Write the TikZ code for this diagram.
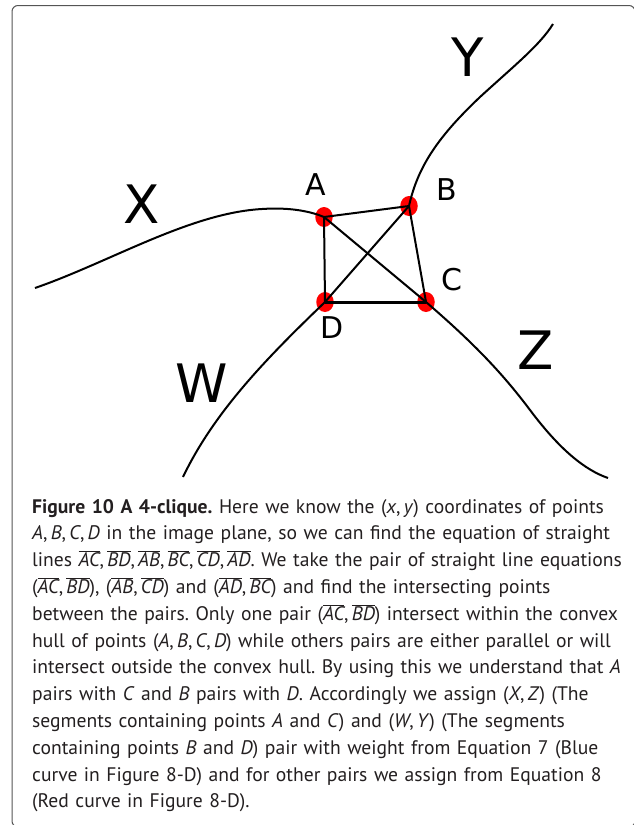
\documentclass[tikz,border=0pt]{standalone}
\usepackage{fontspec}
\setmainfont{PT Sans}
\newfontfamily\labelfont{DejaVu Sans}
\usetikzlibrary{shapes.geometric}
\definecolor{dotred}{RGB}{255,0,0}
\definecolor{captiongray}{RGB}{35,31,32}
\definecolor{framegray}{RGB}{85,85,85}
\newcommand{\seg}[1]{$\overline{\mbox{\itshape #1}}$}
\frenchspacing

\begin{document}
\begin{tikzpicture}[x=1pt, y=-1pt]

        % Définition des styles
        \tikzset{
            vertex/.style={ellipse, fill=dotred, minimum width=17.5pt, minimum height=20pt, inner sep=0pt},
            edge/.style={line width=2pt, black},
            curve/.style={line width=2pt, black},
            biglabel/.style={font=\labelfont\fontsize{53}{53}\selectfont, anchor=base, inner sep=0pt},
            smalllabel/.style={font=\labelfont\fontsize{30}{30}\selectfont, anchor=base, inner sep=0pt},
            caption/.style={anchor=base west, inner sep=0pt, text width=625pt, align=left, text=captiongray, font=\fontsize{19.6}{26.8}\selectfont}
        }

        \useasboundingbox (0,0) rectangle (634,825);

        % Cadre gris
        \draw[framegray, line width=1pt, rounded corners=6pt] (12,5.5) rectangle (635,827);

        % --- Les quatre points ---
        \node[vertex] (A) at (324,217) {};
        \node[vertex] (B) at (409,206) {};
        \node[vertex] (C) at (426,302) {};
        \node[vertex] (D) at (325,302) {};

        % --- Les segments X, Y, Z, W ---
        \coordinate (xend) at (35,288);
        \coordinate (yend) at (553,24);
        \coordinate (zend) at (608,478);
        \coordinate (wend) at (183,477);
        \draw[curve] (xend) .. controls (110,262) and (190,213) .. (262,209) .. controls (292,207) and (312,212) .. (A.center);
        \draw[curve] (B.center) .. controls (418,165) and (440,135) .. (480,97) .. controls (515,65) and (540,45) .. (yend);
        \draw[curve] (C.center) .. controls (470,340) and (500,370) .. (530,410) .. controls (560,450) and (585,470) .. (zend);
        \draw[curve] (D.center) .. controls (270,355) and (215,410) .. (wend);

        % --- La 4-clique ---
        \draw[edge] (A.center) -- (B.center);
        \draw[edge] (A.center) -- (D.center);
        \draw[edge] (A.center) -- (C.center);
        \draw[edge] (B.center) -- (C.center);
        \draw[edge] (B.center) -- (D.center);
        \draw[edge, line width=3pt] (D.center) -- (C.center);

        % Étiquettes
        \node[biglabel] (lx) at (142,223.5) {X};
        \node[biglabel] (ly) at (468,76.5) {Y};
        \node[biglabel] (lz) at (536,369.5) {Z};
        \node[biglabel] (lw) at (202,402.5) {W};
        \node[smalllabel] (la) at (316,195) {A};
        \node[smalllabel] (lb) at (447,200) {B};
        \node[smalllabel] (lc) at (452,290) {C};
        \node[smalllabel] (ld) at (332,338) {D};

        % --- Légende ---
        \node[caption] (cap) at (32,513) {\textbf{Figure 10 A 4-clique.} Here we know the (\textit{x},\,\textit{y}) coordinates of points\\
\textit{A},\,\textit{B},\,\textit{C},\,\textit{D} in the image plane, so we can find the equation of straight\\
lines \seg{AC},\,\seg{BD},\,\seg{AB},\,\seg{BC},\,\seg{CD},\,\seg{AD}. We take the pair of straight line equations\\
(\seg{AC},\,\seg{BD}), (\seg{AB},\,\seg{CD}) and (\seg{AD},\,\seg{BC}) and find the intersecting points\\
between the pairs. Only one pair (\seg{AC},\,\seg{BD}) intersect within the convex\\
hull of points (\textit{A},\,\textit{B},\,\textit{C},\,\textit{D}) while others pairs are either parallel or will\\
intersect outside the convex hull. By using this we understand that \textit{A}\\
pairs with \textit{C} and \textit{B} pairs with \textit{D}. Accordingly we assign (\textit{X},\,\textit{Z}) (The\\
segments containing points \textit{A} and \textit{C}) and (\textit{W},\,\textit{Y}) (The segments\\
containing points \textit{B} and \textit{D}) pair with weight from Equation 7 (Blue\\
curve in Figure 8-D) and for other pairs we assign from Equation 8\\
(Red curve in Figure 8-D).};

    \end{tikzpicture}
\end{document}
